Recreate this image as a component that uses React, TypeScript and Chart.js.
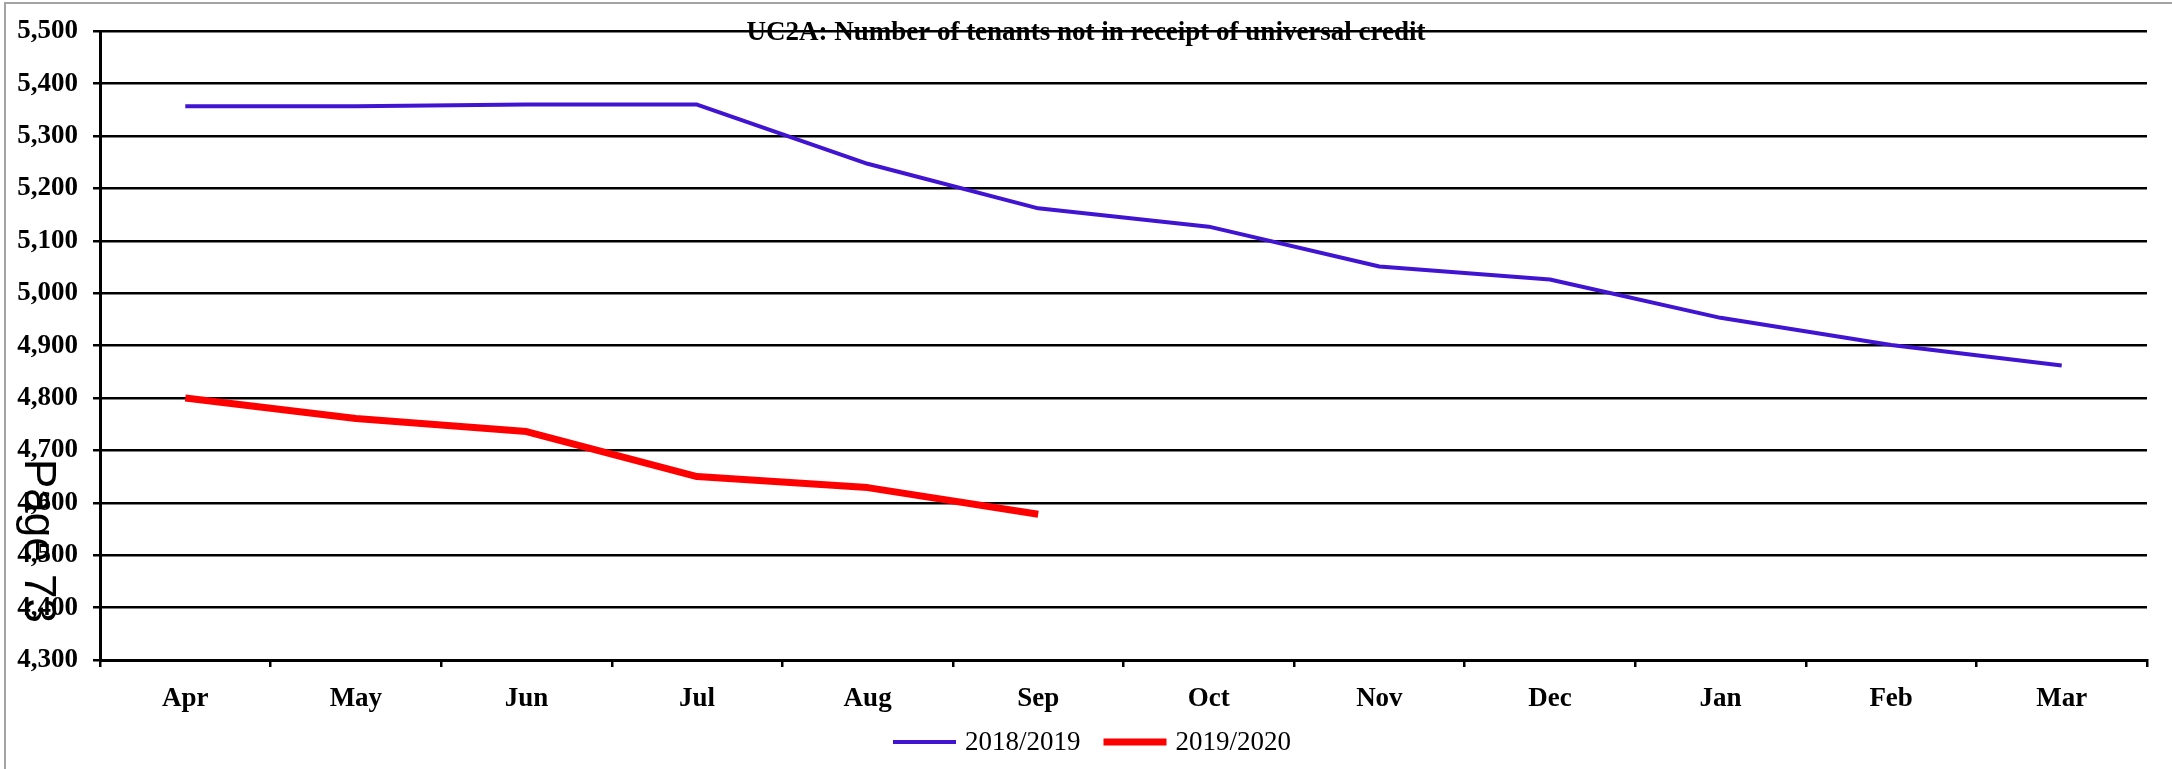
import React, { useEffect, useRef } from 'react';
import { Chart, registerables } from 'chart.js';

Chart.register(...registerables);

const months = ['Apr', 'May', 'Jun', 'Jul', 'Aug', 'Sep', 'Oct', 'Nov', 'Dec', 'Jan', 'Feb', 'Mar'];
const series2018 = [5357, 5357, 5360, 5360, 5247, 5162, 5127, 5051, 5026, 4953, 4901, 4862];
const series2019 = [4800, 4761, 4736, 4650, 4629, 4578];
const legendLabels = ['2018/2019', '2019/2020'];
const seriesColors = ['#4114D2', '#FF0000'];
const seriesWidths = [4, 7];
const yMin = 4300;
const yMax = 5500;
const yStep = 100;
const titleText = 'UC2A: Number of tenants not in receipt of universal credit';
const pageMark = 'Page 73';

const SERIF = '"Liberation Serif", "Times New Roman", serif';
const SANS = '"Liberation Sans", Arial, sans-serif';

const W = 2172;
const H = 769;

const overlay = {
  id: 'overlay',
  beforeDraw(chart: any) {
    const ctx = chart.ctx;
    ctx.save();
    ctx.fillStyle = '#ffffff';
    ctx.fillRect(0, 0, chart.width, chart.height);
    ctx.strokeStyle = '#a3a3a3';
    ctx.lineWidth = 2;
    ctx.strokeRect(5, 3, chart.width + 10, chart.height + 10);
    ctx.restore();
  },
  afterDraw(chart: any) {
    const ctx = chart.ctx;
    ctx.save();
    // title
    ctx.fillStyle = '#000';
    ctx.font = `bold 27px ${SERIF}`;
    ctx.textAlign = 'center';
    ctx.textBaseline = 'alphabetic';
    ctx.fillText(titleText, chart.width / 2, 40);

    // legend
    ctx.font = `27px ${SERIF}`;
    ctx.textAlign = 'left';
    const sample = 63;
    const gapText = 9;
    const gapItem = 23;
    const widths = legendLabels.map((l) => ctx.measureText(l).width);
    const total = widths.reduce((a, b) => a + b, 0) + legendLabels.length * (sample + gapText) + gapItem * (legendLabels.length - 1);
    let x = chart.width / 2 + 6 - total / 2;
    const ly = 742;
    chart.data.datasets.forEach((ds: any, i: number) => {
      ctx.strokeStyle = ds.borderColor;
      ctx.lineWidth = ds.borderWidth;
      ctx.lineCap = 'butt';
      ctx.beginPath();
      ctx.moveTo(x, ly);
      ctx.lineTo(x + sample, ly);
      ctx.stroke();
      x += sample + gapText;
      ctx.fillStyle = '#000';
      ctx.fillText(ds.label, x, 750);
      x += widths[i] + gapItem;
    });

    // rotated page mark
    ctx.translate(25, 459);
    ctx.rotate(Math.PI / 2);
    ctx.font = `44px ${SANS}`;
    ctx.fillStyle = '#000';
    ctx.textAlign = 'left';
    ctx.textBaseline = 'alphabetic';
    ctx.fillText(pageMark, 0, 0);
    ctx.restore();
  },
};

export default function App() {
  const ref = useRef<HTMLCanvasElement | null>(null);

  useEffect(() => {
    if (!ref.current) return;
    const chart = new Chart(ref.current, {
      type: 'line',
      data: {
        labels: months,
        datasets: [
          {
            label: legendLabels[0],
            data: series2018,
            borderColor: seriesColors[0],
            backgroundColor: seriesColors[0],
            borderWidth: seriesWidths[0],
            pointRadius: 0,
            tension: 0,
            fill: false,
            borderCapStyle: 'butt',
            borderJoinStyle: 'round',
          },
          {
            label: legendLabels[1],
            data: series2019,
            borderColor: seriesColors[1],
            backgroundColor: seriesColors[1],
            borderWidth: seriesWidths[1],
            pointRadius: 0,
            tension: 0,
            fill: false,
            borderCapStyle: 'butt',
            borderJoinStyle: 'round',
          },
        ],
      },
      options: {
        animation: false,
        responsive: false,
        maintainAspectRatio: false,
        layout: { padding: { top: 31, right: 25, bottom: 49, left: 0 } },
        plugins: {
          legend: { display: false },
          title: { display: false },
          tooltip: { enabled: false },
        },
        scales: {
          x: {
            type: 'category',
            offset: true,
            grid: {
              display: true,
              drawOnChartArea: false,
              drawTicks: true,
              tickLength: 7,
              offset: true,
              color: '#000',
              lineWidth: 2.5,
            },
            border: { display: true, color: '#000', width: 3 },
            ticks: {
              color: '#000',
              font: { family: SERIF, size: 27, weight: 'bold' },
              padding: 16,
              maxRotation: 0,
              autoSkip: false,
            },
            afterFit: (s: any) => {
              s.height = 60;
            },
          },
          y: {
            min: yMin,
            max: yMax,
            ticks: {
              stepSize: yStep,
              color: '#000',
              font: { family: SERIF, size: 27, weight: 'bold' },
              padding: 15,
              autoSkip: false,
              callback: (v: any) => Number(v).toLocaleString('en-US'),
            },
            grid: { color: '#000', lineWidth: 2.5, tickLength: 7, drawTicks: true },
            border: { display: true, color: '#000', width: 3 },
            afterFit: (s: any) => {
              s.width = 100;
            },
          },
        },
      } as any,
      plugins: [overlay],
    });
    return () => chart.destroy();
  }, []);

  return (
    <div style={{ position: 'absolute', left: 0, top: 0, width: W, height: H, background: '#fff' }}>
      <canvas ref={ref} width={W} height={H} style={{ width: W, height: H, display: 'block' }} />
    </div>
  );
}
